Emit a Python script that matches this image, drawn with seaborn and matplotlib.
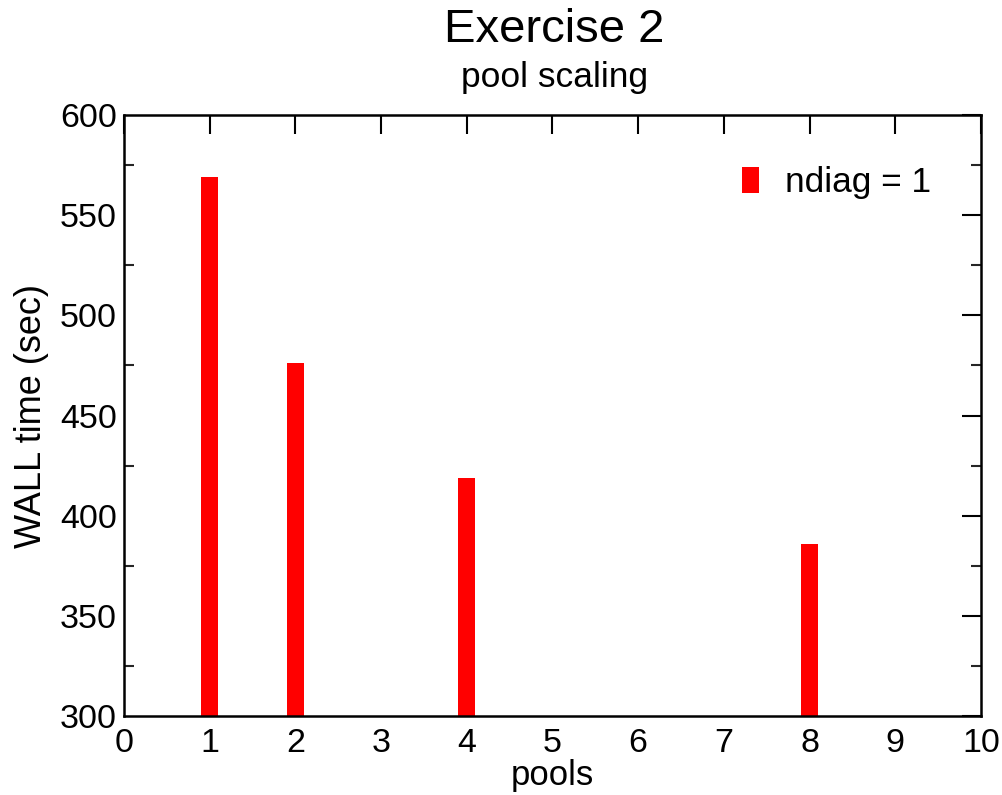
import matplotlib
matplotlib.use("Agg")
import matplotlib.pyplot as plt
import seaborn as sns
import numpy as np
from matplotlib.ticker import MultipleLocator

pools = [1, 2, 4, 8]
wall_time = [569, 476, 419, 386]
series_label = "ndiag = 1"

sns.set_style("white")
plt.rcParams['font.family'] = ['Liberation Sans', 'DejaVu Sans']
plt.rcParams['text.color'] = 'black'
plt.rcParams['axes.labelcolor'] = 'black'

fig = plt.figure(figsize=(10.03, 7.95), dpi=100)
ax = fig.add_axes([0.1236, 0.0994, 0.978 - 0.1236, 0.8553 - 0.0994])

sns.barplot(x=pools, y=wall_time, native_scale=True, width=0.2, color='red',
            saturation=1, label=series_label, ax=ax, edgecolor='none')

ax.set_xlim(0, 10)
ax.set_ylim(300, 600)
ax.xaxis.set_major_locator(MultipleLocator(1))
ax.yaxis.set_major_locator(MultipleLocator(50))
ax.yaxis.set_minor_locator(MultipleLocator(25))
ax.tick_params(axis='both', which='major', direction='in', length=13.5, width=1.5,
               top=True, right=True, labelsize=24.5, colors='black')
ax.tick_params(axis='x', which='major', pad=9)
ax.tick_params(axis='y', which='major', pad=5)
ax.tick_params(axis='y', which='minor', direction='in', length=7.5, width=1.5,
               left=True, right=True)
ax.tick_params(axis='x', which='minor', bottom=False, top=False)
for s in ax.spines.values():
    s.set_linewidth(1.8)
    s.set_color('black')
    s.set_visible(True)

ax.set_xlabel("pools", fontsize=25, labelpad=0)
ax.set_ylabel("WALL time (sec)", fontsize=26, labelpad=8)

fig.text(0.553, 0.962, "Exercise 2", ha='center', va='center', fontsize=34)
fig.text(0.553, 0.902, "pool scaling", ha='center', va='center', fontsize=25.5)

ax.legend(frameon=False, loc='center left', bbox_to_anchor=(0.721, 0.887),
          fontsize=25.4, handlelength=0.49, handleheight=0.77, handletextpad=0.74,
          borderaxespad=0, borderpad=0)

fig.savefig("out.png", dpi=100)
